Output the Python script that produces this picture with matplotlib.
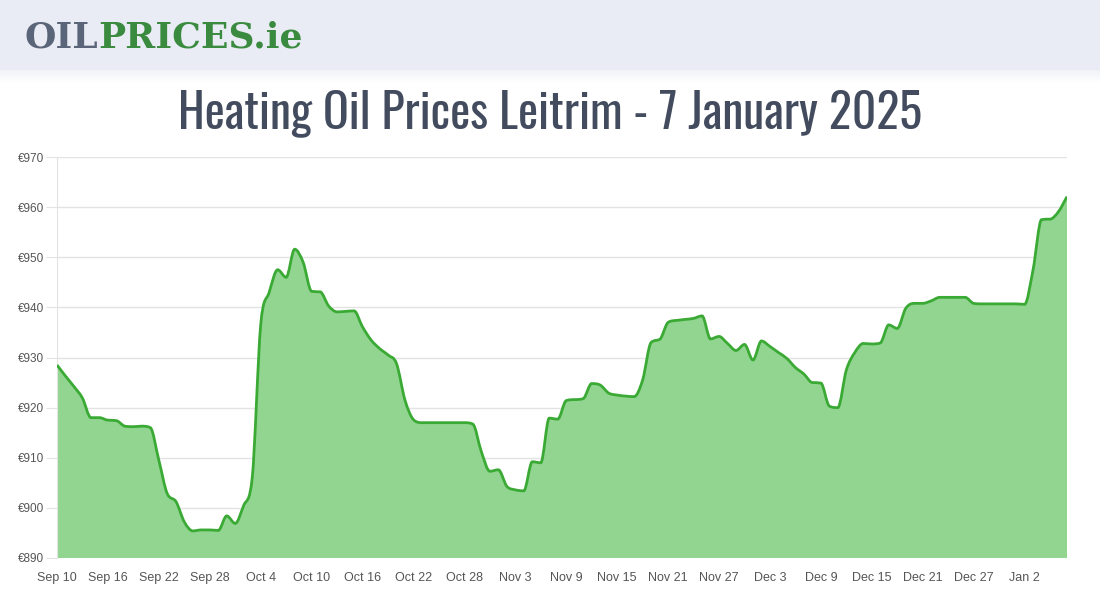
import matplotlib
matplotlib.use('Agg')
import matplotlib.pyplot as plt
import matplotlib.dates as mdates
from matplotlib import font_manager
from matplotlib.path import Path
from matplotlib.patches import Rectangle, PathPatch
import numpy as np
import pandas as pd

# daily price, Sep 10 2024 -> Jan 7 2025
start_date = '2024-09-10'
prices = [
    928.5, 926.3, 924.2, 921.9, 918.0, 918.0, 917.5, 917.4, 916.3, 916.2,
    916.3, 916.0, 909.5, 902.8, 901.3, 897.2, 895.4, 895.6, 895.6, 895.5,
    898.4, 896.9, 900.5, 906.0, 936.5, 943.0, 947.5, 946.0, 951.6, 949.0,
    943.2, 943.1, 940.3, 939.1, 939.2, 939.3, 936.1, 933.5, 931.8, 930.5,
    928.8, 921.5, 917.6, 917.0, 917.0, 917.0, 917.0, 917.0, 917.0, 916.7,
    911.2, 907.3, 907.6, 904.3, 903.6, 903.4, 909.2, 909.0, 917.9, 917.7,
    921.4, 921.6, 921.8, 924.8, 924.5, 922.9, 922.5, 922.3, 922.2, 925.5,
    933.0, 933.6, 937.0, 937.4, 937.6, 937.8, 938.3, 933.7, 934.2, 932.8,
    931.4, 932.6, 929.5, 933.3, 932.2, 931.0, 929.8, 928.0, 926.7, 925.0,
    924.9, 920.3, 920.0, 927.5, 931.0, 932.8, 932.7, 932.9, 936.5, 935.8,
    939.8, 940.8, 940.8, 941.3, 942.0, 942.0, 942.0, 942.0, 940.8, 940.7,
    940.7, 940.7, 940.7, 940.7, 940.6, 947.5, 957.5, 957.6, 959.1, 962.1,
]
dates = pd.date_range(start_date, periods=len(prices), freq='D')
y_ticks = [890, 900, 910, 920, 930, 940, 950, 960, 970]
title = 'Heating Oil Prices Leitrim - 7 January 2025'


def pick_font(cands, fallback):
    names = {f.name for f in font_manager.fontManager.ttflist}
    for c in cands:
        if c in names:
            return c
    return fallback


def monotone_path(x, y):
    # chart.js style monotone cubic, drawn as bezier segments
    x = np.asarray(x, float)
    y = np.asarray(y, float)
    h = np.diff(x)
    d = np.diff(y) / h
    m = np.zeros(len(x))
    m[0], m[-1] = d[0], d[-1]
    for k in range(1, len(x) - 1):
        m[k] = 0 if d[k - 1] * d[k] <= 0 else (d[k - 1] + d[k]) / 2
    for k in range(len(d)):
        if d[k] == 0:
            m[k] = m[k + 1] = 0
            continue
        a, b = m[k] / d[k], m[k + 1] / d[k]
        s = a * a + b * b
        if s > 9:
            t = 3 / np.sqrt(s)
            m[k], m[k + 1] = t * a * d[k], t * b * d[k]
    verts = [(x[0], y[0])]
    codes = [Path.MOVETO]
    for k in range(len(d)):
        verts += [(x[k] + h[k] / 3, y[k] + m[k] * h[k] / 3),
                  (x[k + 1] - h[k] / 3, y[k + 1] - m[k + 1] * h[k] / 3),
                  (x[k + 1], y[k + 1])]
        codes += [Path.CURVE4] * 3
    return verts, codes


fig = plt.figure(figsize=(11, 6), dpi=100)
fig.patch.set_facecolor('white')
renderer = fig.canvas.get_renderer()

# header band + soft shadow
fig.patches.append(Rectangle((0, 530 / 600), 1, 70 / 600, transform=fig.transFigure,
                             facecolor='#e9ecf4', edgecolor='none', zorder=0))
for i in range(8):
    fig.patches.append(Rectangle((0, (529 - i * 1.5) / 600), 1, 1.5 / 600, transform=fig.transFigure,
                                 facecolor='#d8dce6', alpha=0.35 * (1 - i / 8), edgecolor='none', zorder=0))

# logo: OIL + PRICES.ie, scaled to span x 25..303
logo_font = 'DejaVu Serif'
t1 = fig.text(25 / 1100, 1 - 37 / 600, 'OIL', fontsize=20, fontweight='heavy', family=logo_font,
              color='#5b6579', va='center', ha='left')
t2 = fig.text(0, 1 - 37 / 600, 'PRICES.ie', fontsize=20, fontweight='heavy', family=logo_font,
              color='#3a8b3f', va='center', ha='left')
w = t1.get_window_extent(renderer).width + t2.get_window_extent(renderer).width
fs = 20 * 278 / w
t1.set_fontsize(fs)
t2.set_fontsize(fs)
w1 = t1.get_window_extent(renderer).width
t2.set_x((25 + w1) / 1100)

# title, fitted to the reference width (178..922)
title_font = pick_font(['Oswald', 'Liberation Sans Narrow', 'DejaVu Sans Condensed', 'Roboto Condensed',
                        'Open Sans Condensed'], 'Liberation Sans')
tt = fig.text(0.5, 1 - 113 / 600, title, fontsize=30, fontweight='bold',
              family=[title_font, 'DejaVu Sans'], color='#434c5e', ha='center', va='center')
tw = tt.get_window_extent(renderer).width
tt.set_fontsize(min(37, 30 * 744 / tw))

ax = fig.add_axes([57 / 1100, 42 / 600, 1010 / 1100, 401 / 600])
xn = mdates.date2num(dates)
verts, codes = monotone_path(xn, prices)
ax.add_patch(PathPatch(Path(verts, codes), facecolor='none', edgecolor='#3aaa35', linewidth=2, zorder=3))
fverts = verts + [(xn[-1], 890), (xn[0], 890), (xn[0], prices[0])]
fcodes = codes + [Path.LINETO, Path.LINETO, Path.CLOSEPOLY]
ax.add_patch(PathPatch(Path(fverts, fcodes), facecolor='#91d591', edgecolor='none', zorder=2))

ax.set_xlim(xn[0], xn[-1])
ax.set_ylim(890, 970)
ax.set_yticks(y_ticks)
ax.set_yticklabels(['€%d' % v for v in y_ticks])
xt = pd.date_range(start_date, dates[-1], freq='6D')
ax.set_xticks(mdates.date2num(xt))
ax.set_xticklabels([d.strftime('%b ') + str(d.day) for d in xt])

ax.grid(axis='y', color='#e3e3e3', linewidth=1, zorder=1)
ax.set_axisbelow(True)
for s in ['top', 'right', 'bottom']:
    ax.spines[s].set_visible(False)
ax.spines['left'].set_color('#e3e3e3')
ax.tick_params(axis='y', length=8, color='#e3e3e3', labelsize=8.5, labelcolor='#555555', pad=1)
ax.tick_params(axis='x', length=0, labelsize=9, labelcolor='#555555', pad=10)
for lbl in ax.get_xticklabels() + ax.get_yticklabels():
    lbl.set_family('Liberation Sans')

fig.savefig('out.png', dpi=100)
